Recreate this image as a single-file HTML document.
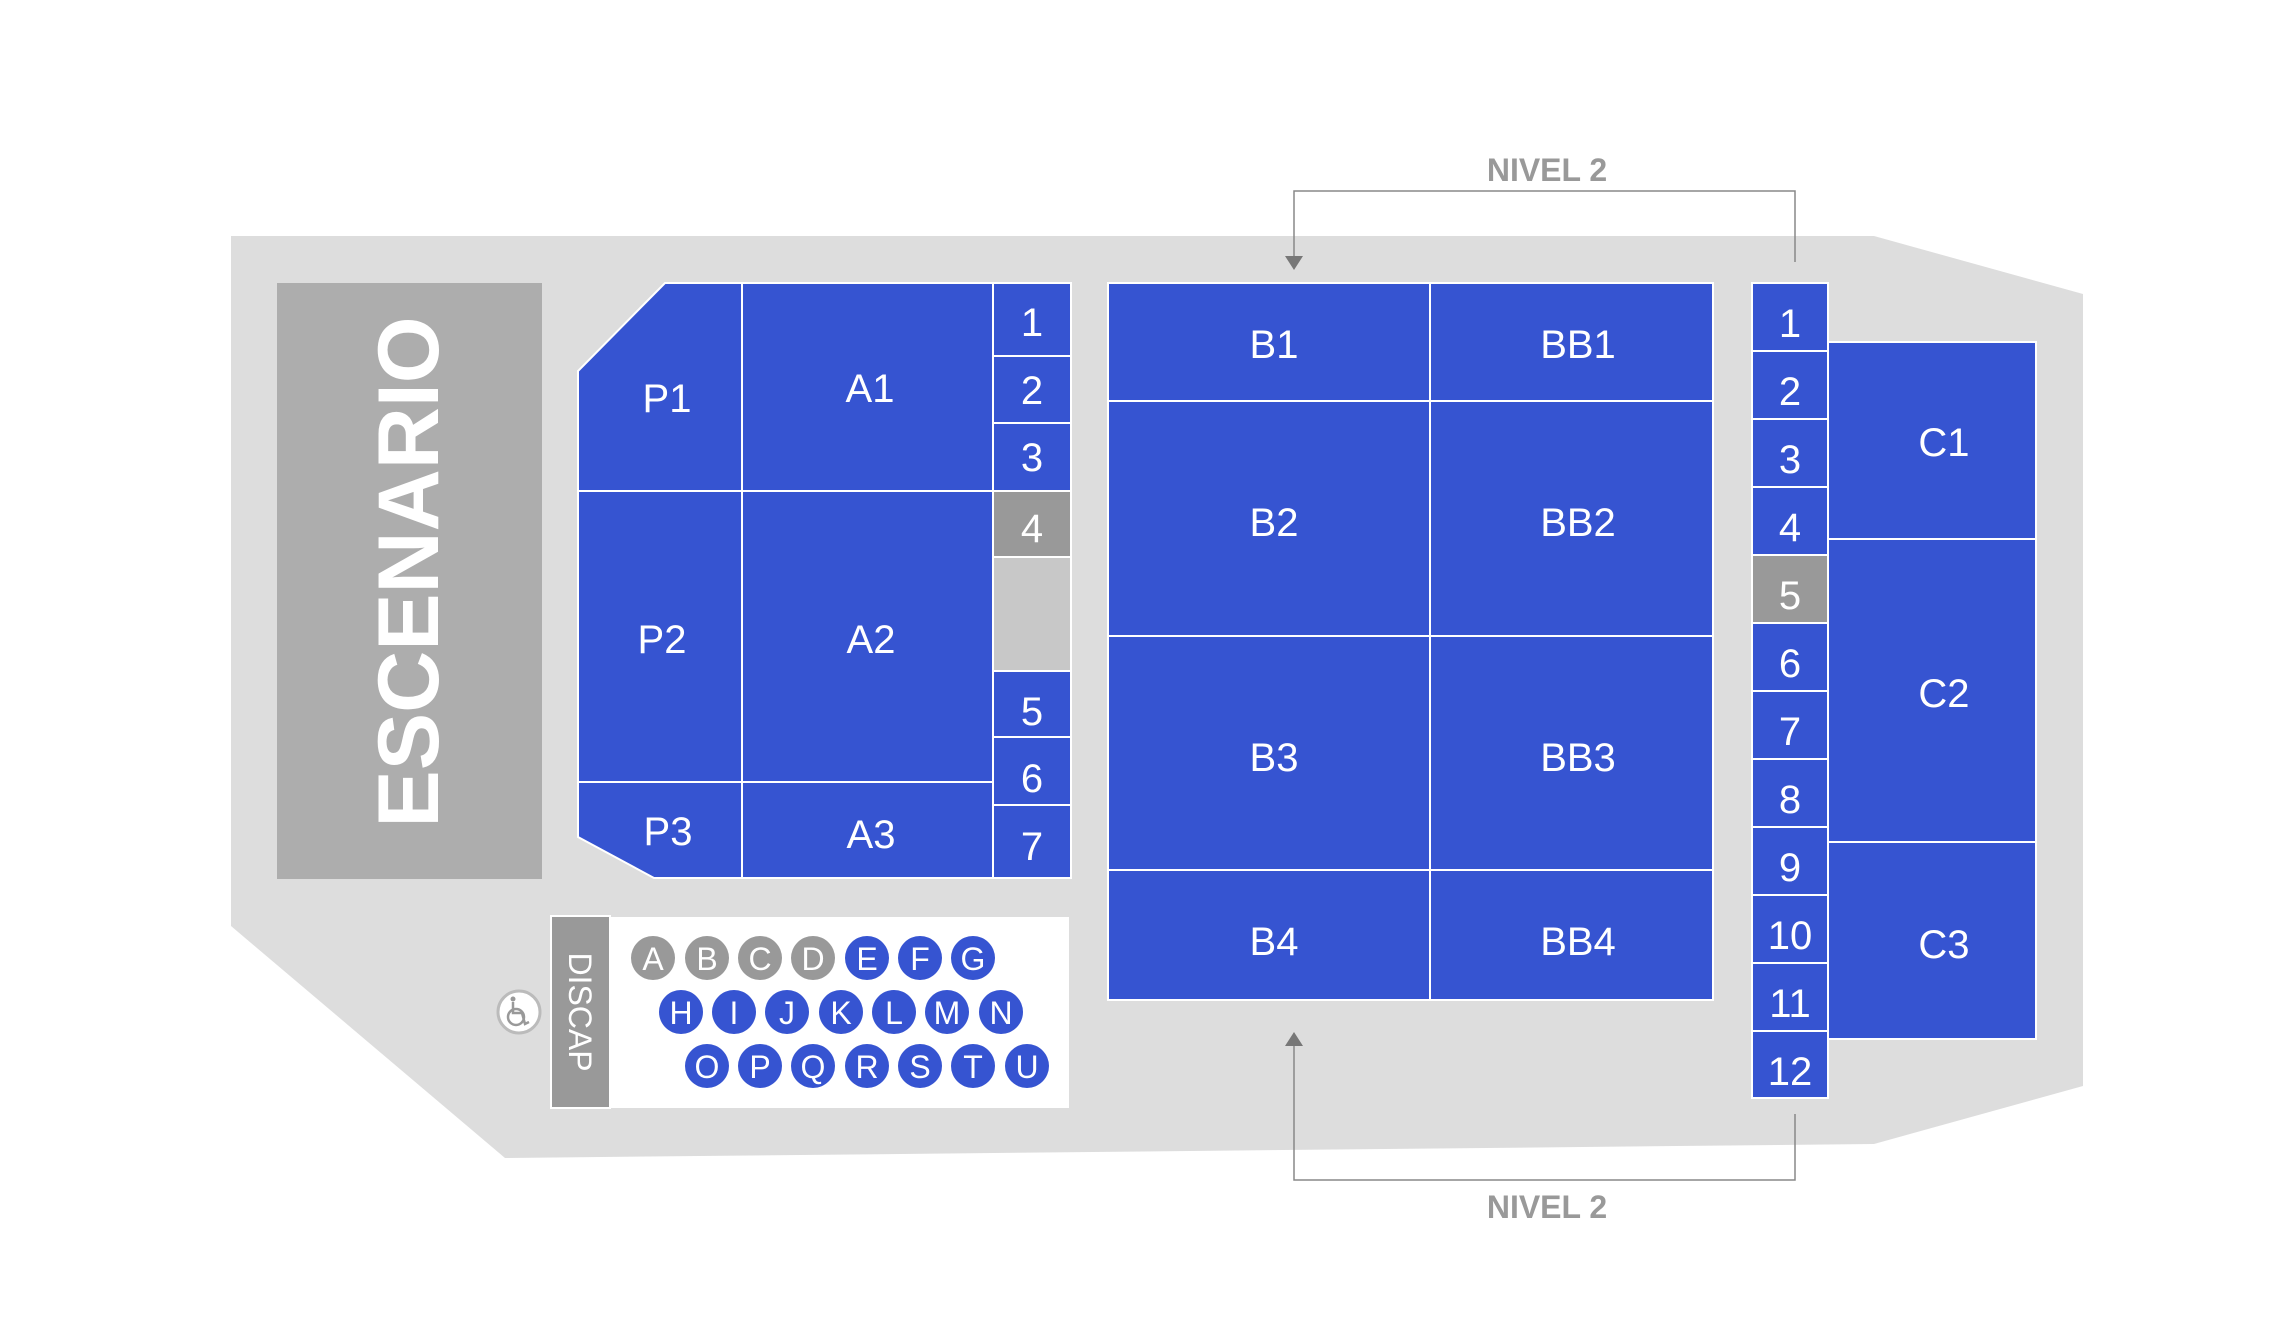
<!DOCTYPE html>
<html><head><meta charset="utf-8"><style>html,body{margin:0;padding:0;background:#fff}svg{display:block}</style></head><body>
<svg width="2276" height="1344" viewBox="0 0 2276 1344" xmlns="http://www.w3.org/2000/svg" font-family="Liberation Sans, Arial, sans-serif">
<polygon points="231,236 1874,236 2083,294 2083,1086 1874,1144 505,1158 231,926" fill="#dddddd"/>
<rect x="277" y="283" width="265" height="596" fill="#adadad"/>
<text transform="translate(438,572) rotate(-90)" text-anchor="middle" font-size="86" font-weight="bold" fill="#fff">ESCENARIO</text>
<g fill="#3654d1" stroke="#fff" stroke-width="2">
<polygon points="665,283 742,283 742,491 578,491 578,371"/>
<rect x="742" y="283" width="251" height="208"/>
<rect x="578" y="491" width="164" height="291"/>
<rect x="742" y="491" width="251" height="291"/>
<polygon points="578,782 742,782 742,878 654,878 578,837"/>
<rect x="742" y="782" width="251" height="96"/>
<rect x="993" y="283" width="78" height="73"/>
<rect x="993" y="356" width="78" height="67"/>
<rect x="993" y="423" width="78" height="68"/>
<rect x="993" y="491" width="78" height="66" fill="#999"/>
<rect x="993" y="557" width="78" height="114" fill="#c8c8c8"/>
<rect x="993" y="671" width="78" height="66"/>
<rect x="993" y="737" width="78" height="68"/>
<rect x="993" y="805" width="78" height="73"/>
<rect x="1108" y="283" width="322" height="118"/>
<rect x="1430" y="283" width="283" height="118"/>
<rect x="1108" y="401" width="322" height="235"/>
<rect x="1430" y="401" width="283" height="235"/>
<rect x="1108" y="636" width="322" height="234"/>
<rect x="1430" y="636" width="283" height="234"/>
<rect x="1108" y="870" width="322" height="130"/>
<rect x="1430" y="870" width="283" height="130"/>
<rect x="1828" y="342" width="208" height="197"/>
<rect x="1828" y="539" width="208" height="303"/>
<rect x="1828" y="842" width="208" height="197"/>
</g>
<g fill="#3654d1" stroke="#fff" stroke-width="2">
<rect x="1752" y="283" width="76" height="68"/><rect x="1752" y="351" width="76" height="68"/><rect x="1752" y="419" width="76" height="68"/><rect x="1752" y="487" width="76" height="68"/><rect x="1752" y="555" width="76" height="68" fill="#999"/><rect x="1752" y="623" width="76" height="68"/><rect x="1752" y="691" width="76" height="68"/><rect x="1752" y="759" width="76" height="68"/><rect x="1752" y="827" width="76" height="68"/><rect x="1752" y="895" width="76" height="68"/><rect x="1752" y="963" width="76" height="68"/><rect x="1752" y="1031" width="76" height="67"/>
</g>
<g fill="#fff" font-size="40" text-anchor="middle">
<text x="667" y="412">P1</text><text x="870" y="402">A1</text>
<text x="662" y="653">P2</text><text x="871" y="653">A2</text>
<text x="668" y="845">P3</text><text x="871" y="848">A3</text>
<text x="1032" y="336">1</text><text x="1032" y="404">2</text><text x="1032" y="471">3</text><text x="1032" y="542">4</text>
<text x="1032" y="725">5</text><text x="1032" y="792">6</text><text x="1032" y="860">7</text>
<text x="1274" y="358">B1</text><text x="1578" y="358">BB1</text>
<text x="1274" y="536">B2</text><text x="1578" y="536">BB2</text>
<text x="1274" y="771">B3</text><text x="1578" y="771">BB3</text>
<text x="1274" y="955">B4</text><text x="1578" y="955">BB4</text>
<text x="1944" y="456">C1</text><text x="1944" y="707">C2</text><text x="1944" y="958">C3</text>
<text x="1790" y="337">1</text><text x="1790" y="405">2</text><text x="1790" y="473">3</text><text x="1790" y="541">4</text><text x="1790" y="609">5</text><text x="1790" y="677">6</text><text x="1790" y="745">7</text><text x="1790" y="813">8</text><text x="1790" y="881">9</text><text x="1790" y="949">10</text><text x="1790" y="1017">11</text><text x="1790" y="1085">12</text>
</g>
<rect x="551" y="916" width="59" height="192" fill="#999" stroke="#fff" stroke-width="2"/>
<rect x="611" y="917" width="458" height="191" fill="#fff"/>
<text transform="translate(569,1012) rotate(90)" text-anchor="middle" font-size="32" fill="#fff">DISCAP</text>
<circle cx="519" cy="1012" r="21" fill="#fff" stroke="#bbb" stroke-width="3"/>
<g stroke="#999" stroke-width="2.5" fill="none">
<circle cx="516" cy="1017" r="8"/>
<polyline points="513,1002 513,1013 522,1013 525,1024 529,1022"/>
</g>
<circle cx="513" cy="999" r="2.5" fill="#999"/>
<g font-size="32" fill="#fff" text-anchor="middle">
<g fill="#999"><circle cx="653" cy="958" r="22"/><circle cx="707" cy="958" r="22"/><circle cx="760" cy="958" r="22"/><circle cx="813" cy="958" r="22"/></g>
<g fill="#3654d1"><circle cx="867" cy="958" r="22"/><circle cx="920" cy="958" r="22"/><circle cx="973" cy="958" r="22"/>
<circle cx="681" cy="1012" r="22"/><circle cx="734" cy="1012" r="22"/><circle cx="787" cy="1012" r="22"/><circle cx="841" cy="1012" r="22"/><circle cx="894" cy="1012" r="22"/><circle cx="947" cy="1012" r="22"/><circle cx="1001" cy="1012" r="22"/>
<circle cx="707" cy="1066" r="22"/><circle cx="760" cy="1066" r="22"/><circle cx="813" cy="1066" r="22"/><circle cx="867" cy="1066" r="22"/><circle cx="920" cy="1066" r="22"/><circle cx="973" cy="1066" r="22"/><circle cx="1027" cy="1066" r="22"/></g>
<text x="653" y="970">A</text><text x="707" y="970">B</text><text x="760" y="970">C</text><text x="813" y="970">D</text><text x="867" y="970">E</text><text x="920" y="970">F</text><text x="973" y="970">G</text>
<text x="681" y="1024">H</text><text x="734" y="1024">I</text><text x="787" y="1024">J</text><text x="841" y="1024">K</text><text x="894" y="1024">L</text><text x="947" y="1024">M</text><text x="1001" y="1024">N</text>
<text x="707" y="1078">O</text><text x="760" y="1078">P</text><text x="813" y="1078">Q</text><text x="867" y="1078">R</text><text x="920" y="1078">S</text><text x="973" y="1078">T</text><text x="1027" y="1078">U</text>
</g>
<g stroke="#888" stroke-width="1.5" fill="none">
<polyline points="1795,262 1795,191 1294,191 1294,258"/>
<polyline points="1795,1114 1795,1180 1294,1180 1294,1043"/>
</g>
<polygon points="1285,256 1303,256 1294,270" fill="#777"/>
<polygon points="1285,1046 1303,1046 1294,1032" fill="#777"/>
<g font-size="32" font-weight="bold" fill="#999" text-anchor="middle">
<text x="1547" y="181">NIVEL 2</text><text x="1547" y="1218">NIVEL 2</text>
</g>
</svg>
</body></html>
